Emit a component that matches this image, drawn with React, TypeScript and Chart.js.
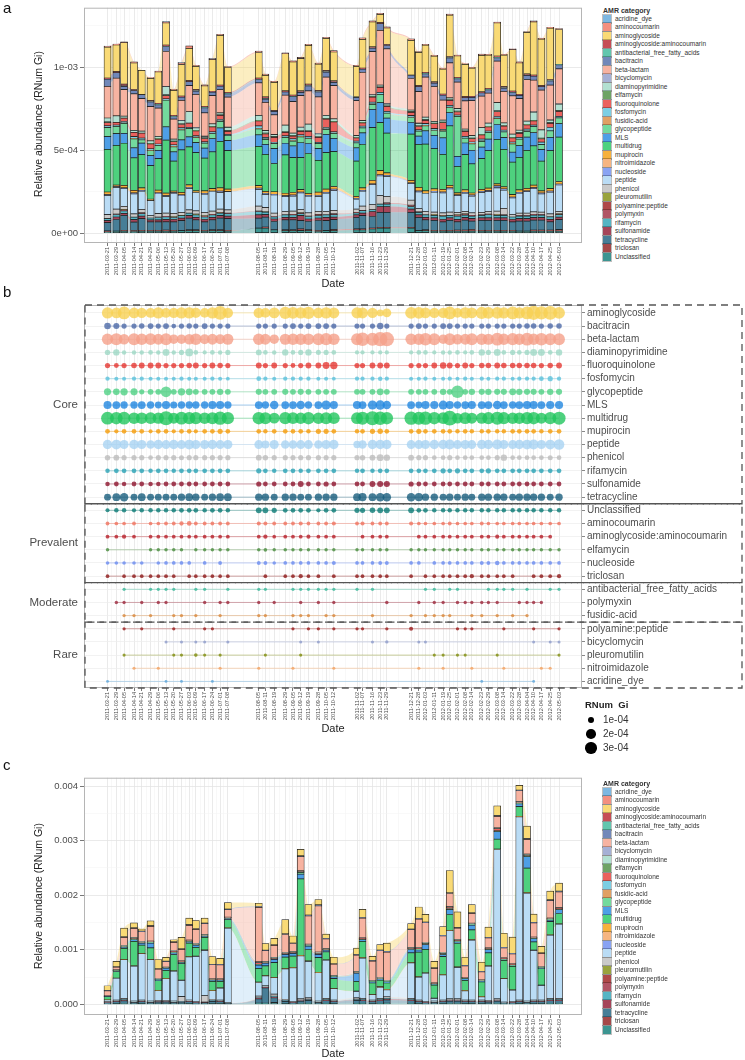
import React, { useEffect, useRef } from 'react';
import { Chart, registerables } from 'chart.js';

Chart.register(...registerables);

const FONT = "'Liberation Sans', Arial, Helvetica, sans-serif";

// ---------------- dates & categories ----------------
const dates = ['2011-03-21','2011-03-29','2011-04-05','2011-04-14','2011-04-21','2011-04-29','2011-05-06','2011-05-13','2011-05-20','2011-05-27',
'2011-06-03','2011-06-09','2011-06-17','2011-06-24','2011-07-01','2011-07-08','2011-08-05','2011-08-11','2011-08-19','2011-08-29',
'2011-09-05','2011-09-12','2011-09-19','2011-09-28','2011-10-05','2011-10-12','2011-11-02','2011-11-07','2011-11-16','2011-11-23',
'2011-11-29','2011-12-21','2011-12-28','2012-01-03','2012-01-11','2012-01-19','2012-01-25','2012-02-01','2012-02-08','2012-02-14',
'2012-02-23','2012-02-29','2012-03-08','2012-03-14','2012-03-22','2012-03-28','2012-04-04','2012-04-10','2012-04-17','2012-04-25','2012-05-03'];

const categories = ['acridine_dye','aminocoumarin','aminoglycoside','aminoglycoside:aminocoumarin','antibacterial_free_fatty_acids','bacitracin','beta-lactam','bicyclomycin','diaminopyrimidine','elfamycin','fluoroquinolone','fosfomycin','fusidic-acid','glycopeptide','MLS','multidrug','mupirocin','nitroimidazole','nucleoside','peptide','phenicol','pleuromutilin','polyamine:peptide','polymyxin','rifamycin','sulfonamide','tetracycline','triclosan','Unclassified'];
const categoryColors = ['#5DA5DA','#F0735F','#F7D154','#B8202A','#3BB89A','#4E6AA8','#F5A08A','#8E9CCB','#9FD8C6','#4A8C3F','#E53935','#5BC2DC','#D9883C','#50D184','#2287E0','#22C55E','#F59E0B','#F4A261','#6B8CF0','#A9D3F2','#BDBDBD','#7F8C0D','#9B1B1B','#9E2A3E','#2BA3B5','#8E1730','#195E7D','#8E1A1A','#0B7A75'];

// panel b row groups
const coreRows = ['aminoglycoside','bacitracin','beta-lactam','diaminopyrimidine','fluoroquinolone','fosfomycin','glycopeptide','MLS','multidrug','mupirocin','peptide','phenicol','rifamycin','sulfonamide','tetracycline'];
const prevalentRows = ['Unclassified','aminocoumarin','aminoglycoside:aminocoumarin','elfamycin','nucleoside','triclosan'];
const moderateRows = ['antibacterial_free_fatty_acids','polymyxin','fusidic-acid'];
const rareRows = ['polyamine:peptide','bicyclomycin','pleuromutilin','nitroimidazole','acridine_dye'];
const groupNames = ['Core','Prevalent','Moderate','Rare'];

// axis tick values (units of 1e-5 RNum Gi)
const yTicksA = [0, 25, 50, 75, 100, 125];
const yLabelsA = ['0e+00', '', '5e-04', '', '1e-03', ''];
const yTicksC = [0, 50, 100, 150, 200, 250, 300, 350, 400];
const yLabelsC = ['0.000', '', '0.001', '', '0.002', '', '0.003', '', '0.004'];
const sizeLegendLabels = ['1e-04', '2e-04', '3e-04'];

// ---------------- panel a (and b) values, units 1e-5 ----------------
const aAcridineDye = [0.1,0,0,0,0,0,0,0.1,0,0.1, 0,0,0,0.1,0,0,0,0,0,0, 0,0,0,0,0,0,0,0,0,0, 0,0,0,0,0,0,0,0,0,0, 0.1,0,0,0,0,0,0,0.1,0,0,0];
const aAminocoumarin = [0.6,0.5,0.5,0.6,0,0.5,0.5,0.6,0.6,1, 1.5,0.6,0.6,0.6,0.6,0.6,0.8,0.8,0.6,0.6, 0.6,0.8,0.6,0.6,0.6,0.8,0.6,0.8,0.6,0.6, 0.6,0.8,0.5,0.5,0.5,0.5,0.6,0.5,0.5,0.5, 0.6,0.5,0.5,0.5,0.5,0.5,0.5,0.5,0.5,0.5,0.5];
const aAminoglycoside = [18.6,16,25,16,14.6,13.4,19,13.4,15,19, 19.4,14,12.4,19,30,15,15.4,13,17,22.4, 20,19.4,23.4,16,19.4,17.4,18.4,17.4,15,5, 10,21,20,16.4,15.4,15,25,13,19.4,17, 22,20,20,19,25,19,25,32,28,31,21];
const aAminoglycosideAminocoumarin = [0.6,0.6,1,0.6,0,0.6,0.6,0.6,0.6,0.6, 0.6,0.6,0.6,0.6,0.6,0.6,0.6,1,0.5,0.6, 0.6,0.6,0.8,0.6,0.6,0.6,0,0.6,0.6,0.6, 0.6,0,0.6,0.6,0.6,0.6,0.6,0.6,0.6,0.6, 0.6,0.6,0.8,0.6,0.6,0.6,0.6,0.6,0.6,0.6,0];
const aAntibacterialFFA = [0,0,0.25,0,0,0.25,0.25,0.25,0.25,0, 0,0.25,0.25,0,0,0.25,0.25,0.25,0,0, 0.25,0.25,0.25,0.25,0.25,0.25,0.25,0,0.25,0, 0,0,0,0.25,0.25,0,0.25,0.25,0,0, 0,0.25,0.25,0.25,0.25,0,0.25,0,0,0.25,0.25];
const aBacitracin = [4.4,3.4,2,2,2.4,2.8,2,3,1.4,2, 2.4,2,3,2,2,2,2,2,2,2, 3,2,3,3,3,2,2,2,2,4, 2,2,3,2,2,3,3,2,2,2, 2,2,2,2,2,2,2.5,2.5,2,2.5,2.5];
const aBetaLactam = [19,22.6,16,22,19.6,20.6,17,21,12,12, 15.6,20,14,17,14,18,19.6,17,12,18, 19,19,20,22,23,20,21,29,26,33, 33,19,19,24,21,12,21,16,17,21, 19,18,25,19,23,19,25,19,24,21,21];
const aBicyclomycin = [0,0,0,0,0,0,0,0.15,0,0.15, 0,0.15,0.15,0,0,0.15,0,0,0,0, 0,0.15,0,0.15,0,0,0,0,0.15,0, 0.3,0,0.15,0.15,0,0,0,0,0,0, 0,0,0,0,0,0,0,0.15,0,0.15,0.15];
const aDiaminopyrimidine = [2.4,4,1.2,1.2,1.2,1.5,1.2,5,1.2,2, 7,1.5,1,1.5,1.2,2,3,1.5,1.2,4, 1.5,2,4,1.8,2,1.5,1,1,1,1, 1,1,1.5,1.5,1,1.2,1.2,1.5,1,1.5, 4,2,5,1.5,2,1.5,2,5,5,1.5,4];
const aElfamycin = [0.35,0,0,0,0,0.35,0.4,0.4,0.4,0.35, 0,0.35,0.35,0.35,0.35,0.4,0.4,0.5,0.35,0.4, 0.35,0.4,0.35,0.35,0.35,0.35,0.35,0.35,0.35,0.4, 0.4,0.4,0.35,0.35,0.35,0.35,0.35,0.35,0.35,0.35, 0.35,0.35,0.35,0.35,0.35,0.35,0.35,0.35,0.35,0.35,0.35];
const aFluoroquinolone = [2,1.6,2,2.6,3,3,3,2,2,2, 2.5,3,2,3,2.5,2,3,2,3,2, 1.6,2,3,3,5,6,2,2,3,3, 3,2,2,2,3,4,3,2,3,2, 2.5,2.5,3,2.5,2.5,2.5,2.5,2.5,2,2.5,3];
const aFosfomycin = [1,0.8,0.8,1,1,0.8,0.8,0.8,0.8,1, 0.8,0.8,0.8,1,0.8,0.6,1.5,1,0.8,1, 1,1,1,0.8,0.8,0.6,1,1,1,1.2, 1,0.8,0.8,1,0.8,0.8,1,0.8,1,0.8, 1,0.8,1,1,0.8,1,1,1,1.5,2,1];
const aFusidicAcid = [0,0,0.3,0.3,0,0.3,0,0,0.3,0.3, 0,0.3,0,0,0.3,0,0.3,0.3,0,0, 0.3,0.3,0.3,0,0.3,0.3,0,0,0.3,0, 0,0.3,0,0.3,0.3,0.3,0.3,0,0,0.3, 0.3,0,0.3,0,0.3,0,0.3,0,0,0,0];
const aGlycopeptide = [5.5,4.4,6,5.4,2,3,3,16,3,6, 5,3,3,3,4,3,3.5,3,3,3.5, 3,3.5,3,3,3,3,3,3,3,5, 3,3,3,3,3,4,3,24,3,4, 3.5,4,3.5,3.5,5,4,3.5,3.5,3,4,3.5];
const aMLS = [7.6,7,6,6,7,6,5,8,5.6,6, 6,6,6,8,8,6,7,6,9,7, 7,9,6,7,11,8,8,7,11,12, 9,7,5,8,8,10,8,6,7,8, 7,7,9,7,6,7,8,8,7,8,8];
const aMultidrug = [25.7,23.9,25.4,19.6,20,20.2,19,31.9,18,25.6, 22.9,23,19.7,22.2,28,23.2,23.6,22.3,17,23.1, 21,19.2,24,19.2,22,21,21.2,26.1,31.8,28.9, 24,27.8,25.9,28.1,24.1,21,35.9,16,21.2,17.6, 18.5,22.5,26.8,22.6,19.5,19.6,22.8,23.7,17.8,22.8,26.8];
const aMupirocin = [1.6,1,1.5,1.5,1.5,0.8,1.5,1.5,1,1.5, 1.5,1,1.5,1.5,2,1.5,1.5,1.2,1.5,1.5, 1.5,1.5,1.2,2,2,1.5,1.2,1.5,2,2.5, 1.5,1.5,2,1.5,1.5,1.5,1.5,1.2,1.5,1.2, 1.2,1.5,1.2,1.2,1.5,1.5,1.5,1.5,1.2,1.5,1.5];
const aNitroimidazole = [0,0,0,0.2,0,0,0.2,0,0,0, 0,0,0,0,0.2,0,0.2,0,0,0, 0.2,0,0,0,0,0.2,0,0,0,0, 0,0,0.2,0,0,0.2,0,0,0,0.2, 0,0,0,0.2,0,0,0,0,0.2,0.2,0];
const aNucleoside = [0.45,0.45,0.45,0.45,0.45,0,0.45,0.5,0.5,0.5, 0.5,0,0.5,0,0.6,0,0.6,0.6,0.4,0.5, 0.5,0.5,0.5,0.5,0.5,0.7,0.5,0.5,0.5,0.6, 0.6,0.5,0.5,0,0.5,0.5,0.5,0.5,0.5,0.5, 0.6,0.6,1.2,0.5,0.5,0.5,0.5,0.5,0.5,0.5,0.5];
const aPeptide = [11.6,13,10.6,12,11,9,12,10,12,10, 13,11,11,12,10,11,10,8,11,9, 9,10,10,9,11,12,6,9,12,12, 12,10,10,11,12,12,14,10,11,10, 12,12,14,11,10,12,13,14,11,13,16];
const aPhenicol = [2.4,3,2,2,2,1.5,2,2,2,1.8, 2,2,2,2,2,2,3,2.5,2,2, 2,2,2,2,2,2,2,2.5,3,5, 4,3,2,2,1.5,1.5,2,1.5,1.5,1.5, 1.5,1.5,2,4,1.5,1.5,1.5,1.5,1.5,1.8,1.5];
const aPleuromutilin = [0,0,0.2,0,0,0,0,0,0.2,0.2, 0,0.45,0.2,0,0.2,0,0,0.2,0,0, 0,0.2,0,0,0,0,0,0,0,0, 0,0,0,0,0.2,0.2,0,0.2,0.2,0, 0,0,0.2,0,0,0,0,0,0,0,0.2];
const aPolyaminePeptide = [0,0,0.25,0,0.25,0,0,0,0.25,0, 0,0,0.25,0.25,0,0,0,0,0,0, 0.25,0,0.25,0.25,0,0.25,0.25,0.25,0,0, 0.25,0.8,0,0,0,0,0,0.25,0.25,0.25, 0,0,0,0.25,0,0,0,0.25,0,0,0.25];
const aPolymyxin = [0,0.3,0.3,0,0.3,0,0.3,0.3,0,0, 0,0,0.3,0,0.3,0.3,0.3,0,0.3,0, 0,0.3,0,0.3,0,0.3,0,0,0,0, 0.4,0,0.3,0,0.3,0.3,0,0.3,0.3,0.3, 0.3,0.3,0.3,0,0,0.3,0.3,0.3,0.3,0,0];
const aRifamycin = [1.2,1.5,1.5,1.5,1.5,1.2,1.5,1.5,1.2,1.5, 1.5,1.5,1.5,1.5,1.5,1.5,2,1.5,1.2,1.5, 1.5,1.2,1.5,1.5,1.5,1.5,1.2,1.5,1.2,1.5, 1.5,1.5,1.5,1.5,1.5,2,1.5,2,1.5,1.5, 1.5,2,1.5,1.5,1.5,1.5,1.5,1.5,1.5,1.5,1.5];
const aSulfonamide = [1.2,1.5,1.2,1.5,1.5,1.2,1.2,1.5,1.5,1.5, 1.5,1.5,1.5,1.5,1.5,1.5,2,1.5,1.5,1.5, 1.5,3,1.5,1.5,2,1.5,1.5,1.5,3,3.5, 3.5,2,1.5,1.5,1.5,1.5,1.5,1.5,1.5,1.5, 1.5,1.5,1.5,1.5,1.5,1.5,1.5,1.5,1.5,1.5,1.5];
const aTetracycline = [5,7,9,5,7,5,5,5,5,6, 7,6,5,6,7,7,6,6,5,6, 6,5,5,6,6,6,7,8,7,9, 9,9,8,6,6,5,6,5,6,5, 6,6,6,6,5,6,6,6,6,5,6];
const aTriclosan = [0.5,0,0.5,0.6,0.5,0.5,0.5,0.6,0.5,0, 0.5,0.5,0.5,0.5,0.5,0.5,0,0.6,0,0.5, 0.5,1,0.5,0.6,0,0.6,0.5,0.5,0.5,0.5, 0.5,0.5,0,0.5,0.5,0.5,0.5,0.6,0.6,1, 0.5,0.5,0.5,0.5,0.5,0,0,0.6,0.6,0.6,0.9];
const aUnclassified = [0.8,1.2,1.2,1,1.2,1.2,1.2,1.2,1.2,1.5, 1.5,1.5,1.2,1.5,1.5,1.2,3,3,2,1.5, 1.5,1.5,1.5,1,1.5,1.5,2,2,2.5,3, 3,3,1.5,1.5,1.2,1.2,1.2,1.2,1.2,1.2, 1.2,1.2,1.2,1.2,1.2,1.2,1.2,1.2,1.2,1.2,1.2];

// ---------------- panel c values, units 1e-5 ----------------
const cAminoglycoside = [9,10,16,9,4,9,17,7,4,21, 12,15,9,14,11,12,6,12,12,26, 13,12,19,10,8,12,12,15,8,10, 15,10,21,14,12,16,41,29,15,15, 17,19,18,26,30,9,23,15,12,16,15];
const cBetaLactam = [9,5,15,17,18,27,17,10,15,21, 27,26,20,26,26,14,100,20,22,33, 15,26,52,85,18,21,30,36,35,49, 52,33,52,36,27,30,24,21,21,18, 15,18,21,18,18,20,27,26,24,32,29];
const cMultidrug = [6,12,20,45,15,21,18,15,30,30, 25,16,23,17,12,15,25,18,27,21, 21,140,21,27,15,18,18,30,21,12, 12,18,45,43,24,33,29,43,19,18, 27,24,18,33,43,18,45,15,30,24,19];
const cMLS = [0.5,1,2,3,4,9,2,4,3,2, 2,4,2,2,2,2,6,5,6,5, 5,9,6,6,3,3,15,3,2,2, 2,6,4,9,1,4,9,3,3,9, 1,6,14,1,1,5,21,6,1,3,7];
const cPeptide = [3,40,71,64,85,76,18,40,55,30, 79,83,83,16,22,137,25,18,30,56, 62,79,67,52,70,21,12,74,10,20, 13,65,42,52,5,46,125,58,17,110, 6,63,274,43,21,336,198,91,27,116,136];
const cTetracycline = [2,3.5,5,2.5,3.5,2.5,3,3,2.5,3, 3.5,2,2.5,4,3.5,1.2,8,28,9,4, 2,4.5,5.5,2.5,5,3.5,5.5,5,3.5,5, 6,5,3.5,2,2.5,3.5,4.5,4.5,3.5,3.5, 3.5,3,4.5,1.8,2,3.5,2.5,3.5,3.5,5,5];
const cPhenicol = [1,1.6,2.5,1.2,1.6,1.2,1.4,1.4,1.2,9, 1.6,1,12,1.8,1.6,0.6,3,2,4,1.8, 1,2,2.4,1.2,2.2,1.6,2.4,2.2,1.6,2.2, 2.8,2.2,1.6,1,1.2,1.6,2,2,1.6,1.6, 1.6,1.4,2,0.8,1,1.6,1.2,1.6,1.6,2.2,2.2];
const cUnclassified = [0.8,1.2,1.5,1,1.2,1,1,1,1,1, 1.2,0.8,0.7,1.4,1.2,0.5,2,2,3,1.4, 0.8,1.5,1.8,1,1.6,1.2,1.8,1.6,1.2,1.6, 2,1.6,1.2,0.8,1,1.2,1.5,1.5,1.2,1.2, 1.2,1,1.5,0.6,0.8,1.2,1,1.2,1.2,1.6,1.6];
const cSulfonamide = [0.6,0.8,1,0.6,0.8,0.6,0.8,0.8,0.6,0.5, 0.8,0.6,0.4,0.9,0.8,0.3,1,1,1.5,0.9, 0.6,1,1.2,0.6,1.1,0.8,1.1,1.1,0.8,1.1, 1.6,1.1,0.8,0.6,0.6,0.8,1,1,0.8,0.8, 0.8,0.8,1,0.4,0.6,0.8,0.6,0.8,0.8,1.1,1.1];
const cRifamycin = [0.5,0.7,1,0.6,0.7,0.6,0.7,0.7,0.6,0.6, 0.8,0.6,0.5,0.8,0.7,0.3,1,1,1.3,0.8, 0.6,1,1,0.6,1,0.7,1,1,0.7,1, 1.2,1,0.7,0.6,0.6,0.7,0.9,0.9,0.7,0.7, 0.7,0.7,0.9,0.4,0.6,0.7,0.6,0.7,0.7,1,1];
const cBacitracin = [0.4,0.6,1,1,1,1.2,0.8,0.6,0.8,1, 1.2,1,1,0.8,0.8,0.8,1.5,0.8,1,1.2, 0.8,1.5,1.5,1.5,0.8,0.8,1,1.2,1,1.2, 1.2,1,1.5,1.2,0.8,1,1.2,1,0.8,1, 0.6,1,1.2,1,1,1,1.5,1,0.8,1.2,1.2];
const cFluoroquinolone = [0.3,0.5,0.8,0.8,0.8,1,0.6,0.6,0.8,0.8, 1,1,0.8,0.8,0.8,0.6,3,1,1,1, 0.8,1.5,1.2,1.5,0.8,0.8,1,1,1,1, 1,1,1.2,1,0.8,1,2,1,0.8,0.8, 0.5,0.8,4,0.8,0.8,1,1.2,1,0.8,1,1];
const cDiaminopyrimidine = [0.3,0.5,1,1,1,1,0.6,0.6,1.5,1, 1,1,1,0.6,0.6,0.8,1.5,1,1.2,1, 0.8,1.5,1,1.2,0.8,0.6,0.8,1,0.8,0.8, 0.8,1,1.2,1,0.6,1,1.5,1,0.6,1, 0.5,1,1.5,1,1,1.5,1.5,1,0.8,1.2,1.2];
const cGlycopeptide = [0.5,1,1.5,2,1,1.5,1,1,2,1.5, 1.5,1,1.5,1,1,1,1.5,1,1.5,1.5, 1.5,3,1.5,1.5,1,1,1,1.5,1,1, 1,1.5,2,2,1.5,2,2,2,1,1.5, 1.5,1.5,1.5,2,2,1.5,2,1,1.5,1.5,1.5];
const cMupirocin = [0.2,0.3,0.5,0.5,0.5,0.5,0.3,0.3,0.4,0.4, 0.5,0.5,0.5,0.3,0.3,0.4,0.8,0.4,0.5,0.6, 0.4,0.8,0.6,0.6,0.4,0.3,0.4,0.6,0.4,1.5, 0.5,0.6,0.8,0.6,0.3,0.5,0.8,0.6,0.3,0.6, 0.3,0.5,0.8,0.5,0.5,0.8,0.8,0.5,0.4,0.6,0.6];

const panelA: Record<string, number[]> = {
  'acridine_dye': aAcridineDye, 'aminocoumarin': aAminocoumarin, 'aminoglycoside': aAminoglycoside,
  'aminoglycoside:aminocoumarin': aAminoglycosideAminocoumarin, 'antibacterial_free_fatty_acids': aAntibacterialFFA,
  'bacitracin': aBacitracin, 'beta-lactam': aBetaLactam, 'bicyclomycin': aBicyclomycin, 'diaminopyrimidine': aDiaminopyrimidine,
  'elfamycin': aElfamycin, 'fluoroquinolone': aFluoroquinolone, 'fosfomycin': aFosfomycin, 'fusidic-acid': aFusidicAcid,
  'glycopeptide': aGlycopeptide, 'MLS': aMLS, 'multidrug': aMultidrug, 'mupirocin': aMupirocin, 'nitroimidazole': aNitroimidazole,
  'nucleoside': aNucleoside, 'peptide': aPeptide, 'phenicol': aPhenicol, 'pleuromutilin': aPleuromutilin,
  'polyamine:peptide': aPolyaminePeptide, 'polymyxin': aPolymyxin, 'rifamycin': aRifamycin, 'sulfonamide': aSulfonamide,
  'tetracycline': aTetracycline, 'triclosan': aTriclosan, 'Unclassified': aUnclassified,
};
const panelC: Record<string, number[]> = {
  'aminoglycoside': cAminoglycoside, 'bacitracin': cBacitracin, 'beta-lactam': cBetaLactam, 'diaminopyrimidine': cDiaminopyrimidine,
  'fluoroquinolone': cFluoroquinolone, 'glycopeptide': cGlycopeptide, 'MLS': cMLS, 'multidrug': cMultidrug, 'mupirocin': cMupirocin,
  'peptide': cPeptide, 'phenicol': cPhenicol, 'rifamycin': cRifamycin, 'sulfonamide': cSulfonamide, 'tetracycline': cTetracycline,
  'Unclassified': cUnclassified,
};

// ---------------- helpers ----------------
const DAY_MS = 86400000;
const t0 = Date.parse(dates[0]);
const days = dates.map((d) => Math.round((Date.parse(d) - t0) / DAY_MS));
const minorDays = days.slice(1).map((d, i) => (d + days[i]) / 2);
const xTickVals = [...days, ...minorDays].sort((a, b) => a - b);
const majorSet = new Set(days);
const dateLabel = new Map(days.map((d, i) => [d, dates[i]] as [number, string]));
const X_MIN = -21.3;
const X_MAX = 429.8;

function hexRgb(h: string) {
  const n = parseInt(h.slice(1), 16);
  return [(n >> 16) & 255, (n >> 8) & 255, n & 255];
}
function rgba(h: string, a: number) {
  const [r, g, b] = hexRgb(h);
  return `rgba(${r},${g},${b},${a})`;
}
function tint(h: string, a: number) {
  const [r, g, b] = hexRgb(h);
  const m = (c: number) => Math.round(c * a + 255 * (1 - a));
  return `rgb(${m(r)},${m(g)},${m(b)})`;
}
const colorOf = (c: string) => categoryColors[categories.indexOf(c)];
const dotRadius = (v: number) => (v > 0 ? (2.2 + 2.1 * Math.sqrt(v)) / 2 : 0);

const framePlugin = {
  id: 'frame',
  afterDraw(chart: any) {
    const { ctx, chartArea: a } = chart;
    ctx.save();
    ctx.strokeStyle = '#b5b5b5';
    ctx.lineWidth = 1;
    ctx.strokeRect(a.left + 0.5, a.top + 0.5, a.width - 1, a.height - 1);
    ctx.restore();
  },
};

function xScale(height: number) {
  return {
    type: 'linear',
    min: X_MIN,
    max: X_MAX,
    offset: false,
    afterBuildTicks: (s: any) => { s.ticks = xTickVals.map((v) => ({ value: v })); },
    afterFit: (s: any) => { s.height = height; },
    ticks: {
      autoSkip: false, minRotation: 90, maxRotation: 90, padding: 1, color: '#4d4d4d',
      font: { size: 5.6, family: FONT },
      callback: (v: number) => dateLabel.get(v) ?? '',
    },
    grid: {
      offset: false,
      color: (c: any) => (c.tick && majorSet.has(c.tick.value) ? '#e4e4e4' : '#f1f1f1'),
      lineWidth: (c: any) => (c.tick && majorSet.has(c.tick.value) ? 0.8 : 0.5),
      tickLength: 3,
      tickColor: (c: any) => (c.tick && majorSet.has(c.tick.value) ? '#555' : 'rgba(0,0,0,0)'),
    },
    border: { display: false },
  };
}

// ---------------- stacked panel (a / c) ----------------
function StackedPanel(props: { data: Record<string, number[]>; top: number; padTop: number; height: number; yMin: number; yMax: number; yTicks: number[]; yLabels: string[] }) {
  const ref = useRef<HTMLCanvasElement | null>(null);
  const { data, top, padTop, height, yMin, yMax, yTicks, yLabels } = props;
  useEffect(() => {
    const bottomUp = [...categories].reverse().filter((c) => data[c]);
    const flows = bottomUp.map((c, i) => ({
      type: 'line', label: c + ' flow', stack: 'flow', order: 2,
      data: days.map((d, j) => ({ x: d, y: data[c][j] })),
      fill: i === 0 ? 'origin' : '-1',
      backgroundColor: rgba(colorOf(c), 0.36),
      borderWidth: 0, pointRadius: 0, pointHoverRadius: 0,
      cubicInterpolationMode: 'monotone',
    }));
    const bars = bottomUp.map((c) => ({
      type: 'bar', label: c, stack: 'bars', order: 1, grouped: false,
      data: days.map((d, j) => ({ x: d, y: data[c][j] > 0 ? data[c][j] : null })),
      backgroundColor: tint(colorOf(c), 0.8),
      borderColor: '#1c1c1c', borderWidth: 0.7, borderSkipped: false, barThickness: 7,
    }));
    const labelled = (v: number) => !!yLabels[yTicks.indexOf(v)];
    const chart = new Chart(ref.current as HTMLCanvasElement, {
      type: 'bar',
      data: { datasets: [...flows, ...bars] as any },
      options: {
        responsive: false, animation: false, devicePixelRatio: 1,
        layout: { padding: { left: 0, right: 8, top: padTop, bottom: 0 } },
        plugins: { legend: { display: false }, tooltip: { enabled: false } },
        scales: {
          x: xScale(37) as any,
          y: {
            type: 'linear', stacked: true, min: yMin, max: yMax,
            afterBuildTicks: (s: any) => { s.ticks = yTicks.map((v) => ({ value: v })); },
            afterFit: (s: any) => { s.width = 84; },
            ticks: { padding: 2, color: '#4d4d4d', font: { size: 9.5, family: FONT }, callback: (v: any) => yLabels[yTicks.indexOf(v)] ?? '' },
            grid: {
              color: (c: any) => (c.tick && labelled(c.tick.value) ? '#e4e4e4' : '#f2f2f2'),
              lineWidth: (c: any) => (c.tick && labelled(c.tick.value) ? 0.8 : 0.5),
              tickLength: 4,
              tickColor: (c: any) => (c.tick && labelled(c.tick.value) ? '#555' : 'rgba(0,0,0,0)'),
            },
            border: { display: false },
          } as any,
        },
      },
      plugins: [framePlugin],
    });
    return () => chart.destroy();
  }, []);
  return <canvas ref={ref} width={590} height={height} style={{ position: 'absolute', left: 0, top, width: 590, height }} />;
}

// ---------------- dot panel (b) ----------------
function DotPanel(props: { top: number }) {
  const ref = useRef<HTMLCanvasElement | null>(null);
  useEffect(() => {
    const groups = [coreRows, prevalentRows, moderateRows, rareRows];
    const rows = groups.flat();
    const datasets = rows.map((c, r) => ({
      label: c,
      data: days.map((d, j) => ({ x: d, y: r, v: panelA[c][j] })).filter((p) => p.v > 0),
      showLine: true,
      borderColor: rgba(colorOf(c), 0.5),
      borderWidth: 0.8,
      pointBackgroundColor: rgba(colorOf(c), 0.8),
      pointBorderWidth: 0,
      pointRadius: (ctx: any) => dotRadius(ctx.raw ? ctx.raw.v : 0),
      pointHoverRadius: (ctx: any) => dotRadius(ctx.raw ? ctx.raw.v : 0),
    }));
    const boxes = {
      id: 'groupBoxes',
      afterDraw(chart: any) {
        const { ctx, chartArea } = chart;
        const y = chart.scales.y;
        ctx.save();
        let start = 0;
        groups.forEach((g, gi) => {
          const topPx = gi === 0 ? chartArea.top : y.getPixelForValue(start - 0.5);
          const botPx = y.getPixelForValue(start + g.length - 0.5);
          ctx.setLineDash([7, 5]);
          ctx.strokeStyle = '#555';
          ctx.lineWidth = 1.3;
          ctx.strokeRect(85, topPx, 742 - 85, botPx - topPx);
          ctx.setLineDash([]);
          ctx.fillStyle = '#4d4d4d';
          ctx.font = `11.5px ${FONT}`;
          ctx.textAlign = 'right';
          ctx.textBaseline = 'middle';
          ctx.fillText(groupNames[gi], 78, (topPx + botPx) / 2);
          start += g.length;
        });
        ctx.restore();
      },
    };
    const chart = new Chart(ref.current as HTMLCanvasElement, {
      type: 'scatter',
      data: { datasets: datasets as any },
      options: {
        responsive: false, animation: false, devicePixelRatio: 1,
        layout: { padding: { left: 84, right: 0, top: 10, bottom: 0 } },
        plugins: { legend: { display: false }, tooltip: { enabled: false } },
        scales: {
          x: xScale(37) as any,
          y: {
            type: 'linear', position: 'right', reverse: true, min: -0.6, max: 28.5,
            afterBuildTicks: (s: any) => { s.ticks = rows.map((_, i) => ({ value: i })); },
            afterFit: (s: any) => { s.width = 163; },
            ticks: { autoSkip: false, padding: 2, color: '#4d4d4d', font: { size: 10, family: FONT }, callback: (v: any) => rows[v] ?? '' },
            grid: { color: '#ececec', lineWidth: 0.7, tickLength: 3, tickColor: '#555' },
            border: { display: false },
          } as any,
        },
      },
      plugins: [framePlugin, boxes],
    });
    return () => chart.destroy();
  }, []);
  return <canvas ref={ref} width={745} height={430} style={{ position: 'absolute', left: 0, top: props.top, width: 745, height: 430 }} />;
}

// ---------------- HTML decorations ----------------
function Legend(props: { top: number }) {
  return (
    <div style={{ position: 'absolute', left: 603, top: props.top, fontFamily: FONT, color: '#333', whiteSpace: 'nowrap' }}>
      <div style={{ fontWeight: 'bold', fontSize: 7, height: 9, lineHeight: '9px' }}>AMR  category</div>
      {categories.map((c, i) => (
        <div key={c} style={{ display: 'flex', alignItems: 'center', height: 8.5 }}>
          <span style={{ display: 'inline-block', width: 8, height: 7.6, background: tint(categoryColors[i], 0.8), outline: '0.5px solid rgba(0,0,0,0.25)' }} />
          <span style={{ marginLeft: 4, fontSize: 6.5, lineHeight: '8.5px', whiteSpace: 'nowrap' }}>{c}</span>
        </div>
      ))}
    </div>
  );
}

function YTitle(props: { cy: number }) {
  return (
    <div style={{ position: 'absolute', left: 38, top: props.cy, transform: 'translate(-50%,-50%) rotate(-90deg)', whiteSpace: 'nowrap', fontFamily: FONT, fontSize: 10.5, color: '#222' }}>
      Relative abundance (RNum Gi)
    </div>
  );
}

function DateTitle(props: { cy: number }) {
  return (
    <div style={{ position: 'absolute', left: 333, top: props.cy, transform: 'translate(-50%,-50%)', fontFamily: FONT, fontSize: 11, color: '#222', whiteSpace: 'nowrap' }}>Date</div>
  );
}

function PanelTag(props: { text: string; top: number }) {
  return <div style={{ position: 'absolute', left: 3, top: props.top, fontFamily: FONT, fontSize: 15, color: '#111', lineHeight: '16px' }}>{props.text}</div>;
}

function SizeLegend() {
  const diam = [6.7, 9.7, 11.3];
  return (
    <div style={{ position: 'absolute', left: 585, top: 699, width: 80, fontFamily: FONT, whiteSpace: 'nowrap' }}>
      <div style={{ fontWeight: 'bold', fontSize: 9.5, color: '#222', height: 14, lineHeight: '12px', whiteSpace: 'pre' }}>RNum  Gi</div>
      {sizeLegendLabels.map((l, i) => (
        <div key={l} style={{ position: 'relative', height: 14, width: 80 }}>
          <span style={{ position: 'absolute', left: 6 - diam[i] / 2, top: 7 - diam[i] / 2, width: diam[i], height: diam[i], borderRadius: '50%', background: '#000' }} />
          <span style={{ position: 'absolute', left: 18, top: 0, fontSize: 10, lineHeight: '14px', color: '#333', whiteSpace: 'nowrap' }}>{l}</span>
        </div>
      ))}
    </div>
  );
}

export default function App() {
  return (
    <div style={{ position: 'absolute', left: 0, top: 0, width: 745, height: 1060, background: '#fff', overflow: 'hidden' }}>
      <StackedPanel data={panelA} top={0} padTop={5} height={280} yMin={-5.95} yMax={135.7} yTicks={yTicksA} yLabels={yLabelsA} />
      <PanelTag text="a" top={0} />
      <YTitle cy={124} />
      <DateTitle cy={283} />
      <Legend top={5.5} />

      <DotPanel top={295} />
      <PanelTag text="b" top={284} />
      <DateTitle cy={728} />
      <SizeLegend />

      <StackedPanel data={panelC} top={770} padTop={7} height={282} yMin={-19.6} yMax={415.5} yTicks={yTicksC} yLabels={yLabelsC} />
      <PanelTag text="c" top={757} />
      <YTitle cy={896} />
      <DateTitle cy={1053} />
      <Legend top={778.5} />
    </div>
  );
}
